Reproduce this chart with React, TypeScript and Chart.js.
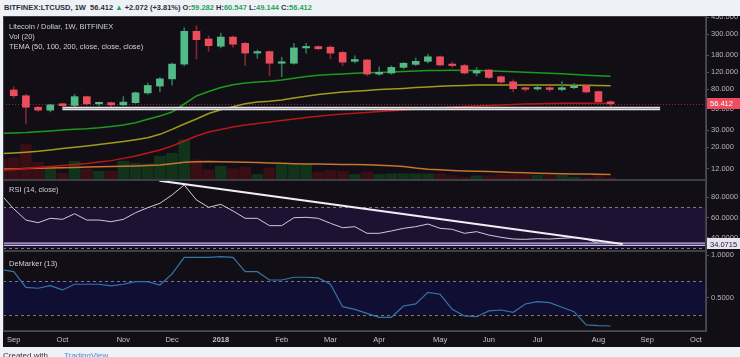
import React, { useEffect, useRef } from 'react';
import { Chart, registerables } from 'chart.js';
Chart.register(...registerables);

const FONT = '"Liberation Sans", Arial, sans-serif';
const BG = '#120e15';

// week index 0 = week of 1 Jan 2018 (weekly candles, BITFINEX LTCUSD)
const candleWeeks = [-17,-16,-15,-14,-13,-12,-11,-10,-9,-8,-7,-6,-5,-4,-3,-2,-1,0,1,2,3,4,5,6,7,8,9,10,11,12,13,14,15,16,17,18,19,20,21,22,23,24,25,26,27,28,29,30,31,32];
const opens  = [78.6,68.5,52,48.5,56.5,54.3,67,56.4,58,55,58,73.3,86.3,102.5,146,320,266,224,279,240,190,197,149,149,215,222,219,193,156,161,115,118,135,145,156,174,146,141,118,127,108,95.5,82,80.5,83,79.5,83,87,75.6,59.282];
const highs  = [85,71,53,56,57.5,71,68,59,59,67,75,93,106,150,349,365,287,307,285,245,204,200,172,240,240,226,225,198,178,164,137,140,152,169,185,178,154,145,135,129,110,100,84,86,85,96,92,88,77,60.547];
const lows   = [65,35,47,46.5,53,52,55,54,49.5,54,57,71,75,88,140,165,198,215,219,141,167,110,108,146,190,205,165,141,150,110,112,114,130,141,150,140,135,115,110,103,93,75,76,78,76,77,81,73,56,49.144];
const closes = [68.5,52,48.5,55,54,67,56.4,57.2,55,58.8,73.5,87.6,102.5,146,320,262,227,279,235,190,197,149,150,215,220,211,190,153,163,115,120,135,149,156,174,143,141,118,125,106,95,81,80,83,79.5,83,86.5,75,59.3,56.412];

const lineWeeks = [-18,-17,-16,-15,-14,-13,-12,-11,-10,-9,-8,-7,-6,-5,-4,-3,-2,-1,0,1,2,3,4,5,6,7,8,9,10,11,12,13,14,15,16,17,18,19,20,21,22,23,24,25,26,27,28,29,30,31,32];
const tema50  = [27.8,28.1,28.4,29.0,29.5,30.2,30.7,31.1,31.8,32.8,34.0,35.9,39.0,42.2,46.4,56.2,68.1,75.8,83.4,89.0,92.9,95.1,97.0,99.8,104,108.5,112,113.8,115.2,117.2,118.6,119.4,120.9,122.3,123.8,125,125.6,125.9,125.6,125,124.4,122.9,121.7,120,118.9,117.4,115.8,114.1,112,110.4,109];
const tema100 = [17.2,17.4,17.7,18.1,18.7,19.4,20.0,20.6,21.3,22.1,22.9,23.9,25.1,27.2,30.6,34.8,39.3,44.8,48.9,52.6,56.6,59.0,60.1,61.8,64.9,67.6,70.6,72.8,74.9,76.4,77.7,79.3,80.5,81.6,83.2,84.4,85.8,86.9,87.7,88.4,88.6,88.7,88.7,88.6,88.5,88.4,88.3,88.1,87.9,87.5,87.1];
const tema200 = [11.5,11.7,12.0,12.3,12.6,12.9,13.2,13.5,14.0,14.5,15.3,16.2,17.4,18.7,20.6,23.2,26.1,28.8,30.6,32.4,34.0,35.3,36.5,37.9,39.3,40.7,41.9,43.2,44.2,45.1,45.9,46.9,47.8,48.7,49.5,50.5,51.3,52.3,53.0,53.6,54.2,54.9,55.6,56.2,56.7,57.0,57.3,57.3,57.3,57.3,57.3];
const volume   = [210,222,355,178,112,68,188,112,88,88,188,168,162,238,268,402,202,102,138,112,128,55,122,155,155,155,78,95,88,55,78,55,62,62,62,62,62,45,28,42,42,55,55,55,48,48,48,28,22,48,22];
const volumeMA = [110,111,114,117,120,123,126,129,132,135,138,141,145,150,163,177,183,185,183,181,178,174,171,167,163,161,159,157,155,154,152,148,143,136,120,108,102,96,91,88,84,80,76,72,68,65,63,61,59,57,55];
const rsi = [81.8,68.5,57.5,54.9,59.2,58.2,63.7,57.5,57.5,55.9,58.2,64.7,69.6,73.9,82.1,91.9,77.2,70,72.9,66.4,59.2,59.2,52,52,59.8,60.2,59.2,54.3,50,51,44.5,44.5,46.8,49.4,51,53.6,49.4,48.4,44.5,46.1,42.8,40.6,38.9,38.6,39.2,38.9,39.6,40.2,38.9,34.7,34.07];
const demarker = [0.83,0.806,0.622,0.611,0.641,0.591,0.658,0.658,0.658,0.638,0.658,0.688,0.688,0.649,0.779,0.975,0.975,0.975,0.982,0.975,0.806,0.806,0.708,0.708,0.74,0.74,0.732,0.658,0.394,0.363,0.316,0.269,0.269,0.402,0.426,0.563,0.54,0.363,0.285,0.276,0.344,0.355,0.328,0.426,0.453,0.441,0.387,0.335,0.179,0.171,0.167];

const monthTicks  = [-17,-13,-8,-4,0,5,9,13,18,22,26,31,35,39];
const monthLabels = ['Sep','Oct','Nov','Dec','2018','Feb','Mar','Apr','May','Jun','Jul','Aug','Sep','Oct'];
const priceTicks = [12,20,30,50,80,120,180,300,450];
const rsiTicks = [40,60,80];
const demTicks = [0.5,1];

const lastPrice = 56.412;
const lastRsi = 34.0715;
const supportLevel = 50.5;
const supportFrom = -13;
const supportTo = 36.06;
const rsiTrendWeeks = [-5.04, 32.99];
const rsiTrendValues = [96.08, 34.0];
const rsiLevel = 33.8;

const X_MIN = -17.88, X_MAX = 39.83;
const UP = '#53b987', DOWN = '#eb4d5c';

function panePlugin(cfg: any) {
  return {
    id: 'pane' + Math.random().toString(36).slice(2),
    beforeDraw(chart: any) {
      const { ctx, width, height, chartArea: ca, scales } = chart;
      const y = scales.y;
      ctx.save();
      ctx.fillStyle = BG;
      ctx.fillRect(3, 0, width - 3, height);
      (cfg.bands || []).forEach((b: any) => {
        const a = y.getPixelForValue(b.from), c = y.getPixelForValue(b.to);
        ctx.fillStyle = b.color;
        ctx.fillRect(ca.left, Math.min(a, c), ca.right - ca.left, Math.abs(a - c));
      });
      ctx.lineWidth = 1;
      ctx.setLineDash([3, 3]);
      ctx.strokeStyle = '#7a7a84';
      (cfg.dashed || []).forEach((v: number) => {
        const py = Math.round(y.getPixelForValue(v)) + 0.5;
        ctx.beginPath(); ctx.moveTo(ca.left, py); ctx.lineTo(ca.right, py); ctx.stroke();
      });
      if (cfg.dotted) {
        ctx.setLineDash([1, 2]);
        ctx.strokeStyle = cfg.dotted.color;
        const py = Math.round(y.getPixelForValue(cfg.dotted.value)) + 0.5;
        ctx.beginPath(); ctx.moveTo(ca.left, py); ctx.lineTo(ca.right, py); ctx.stroke();
      }
      ctx.restore();
    },
    afterDraw(chart: any) {
      const { ctx, width, chartArea: ca, scales } = chart;
      ctx.save();
      ctx.strokeStyle = '#3e3e48';
      ctx.lineWidth = 1;
      ctx.strokeRect(ca.left + 0.5, ca.top + 0.5, ca.right - ca.left - 1, ca.bottom - ca.top - 1);
      if (cfg.box) {
        const py = scales.y.getPixelForValue(cfg.box.value);
        ctx.fillStyle = cfg.box.bg;
        ctx.fillRect(ca.right + 1, Math.round(py - 5.5), width - ca.right - 1, 11);
        ctx.fillStyle = cfg.box.fg;
        ctx.font = '7.5px ' + FONT;
        ctx.textBaseline = 'middle';
        ctx.textAlign = 'left';
        ctx.fillText(cfg.box.text, ca.right + 4, py + 0.5);
      }
      ctx.restore();
    },
  };
}

const tickFont = { size: 7.5, family: FONT };
const rightAxis = (min: number, max: number, ticks: number[], digits: number, type = 'linear') => ({
  type,
  position: 'right',
  min,
  max,
  afterBuildTicks: (s: any) => { s.ticks = ticks.map((v) => ({ value: v })); },
  afterFit: (s: any) => { s.width = 34; s.paddingTop = 0; s.paddingBottom = 0; },
  ticks: { color: '#b6b6bc', font: tickFont, padding: 2, autoSkip: false, callback: (v: any) => Number(v).toFixed(digits) },
  grid: { drawOnChartArea: false, tickLength: 3, color: '#55555e' },
  border: { color: '#4a4a54' },
});
const hiddenX = { type: 'linear', min: X_MIN, max: X_MAX, display: false, offset: false };

export default function App() {
  const mainRef = useRef<HTMLCanvasElement>(null);
  const rsiRef = useRef<HTMLCanvasElement>(null);
  const demRef = useRef<HTMLCanvasElement>(null);

  useEffect(() => {
    Chart.defaults.font.family = FONT;
    const up = candleWeeks.map((_, i) => closes[i] >= opens[i]);
    const volUp = lineWeeks.map((w) => { const i = candleWeeks.indexOf(w); return i >= 0 ? up[i] : false; });
    const common = {
      animation: false,
      responsive: false,
      maintainAspectRatio: false,
      events: [],
      plugins: { legend: { display: false }, tooltip: { enabled: false } },
      layout: { padding: { left: 3, right: 0, top: 0, bottom: 0 } },
    };
    const line = (data: any[], color: string, width: number, yAxisID = 'y', order = 5) => ({
      type: 'line', data, borderColor: color, borderWidth: width, pointRadius: 0, tension: 0, yAxisID, order, fill: false,
    });

    const main = new Chart(mainRef.current!, {
      type: 'bar',
      data: {
        datasets: [
          { type: 'bar', data: lineWeeks.map((w, i) => ({ x: w, y: volume[i] })), backgroundColor: volUp.map((u) => (u ? '#11331a' : '#3a0e17')), barThickness: 11, grouped: false, yAxisID: 'vol', order: 20 },
          line(lineWeeks.map((w, i) => ({ x: w, y: volumeMA[i] })), '#c8742c', 1.5, 'vol', 19),
          line(lineWeeks.map((w, i) => ({ x: w, y: tema200[i] })), '#b81818', 1.5, 'y', 12),
          line(lineWeeks.map((w, i) => ({ x: w, y: tema100[i] })), '#a09c1e', 1.5, 'y', 11),
          line(lineWeeks.map((w, i) => ({ x: w, y: tema50[i] })), '#1c9a1c', 1.5, 'y', 10),
          { type: 'bar', data: candleWeeks.map((w, i) => ({ x: w, y: [lows[i], highs[i]] })), backgroundColor: up.map((u) => (u ? '#2f7255' : '#7e2732')), barThickness: 1, grouped: false, yAxisID: 'y', order: 4 },
          { type: 'bar', data: candleWeeks.map((w, i) => ({ x: w, y: [opens[i], closes[i]] })), backgroundColor: up.map((u) => (u ? UP : DOWN)), barThickness: 7, minBarLength: 1.5, grouped: false, yAxisID: 'y', order: 3 },
          line([{ x: supportFrom, y: supportLevel }, { x: supportTo, y: supportLevel }], '#e6e6ea', 3.5, 'y', 2),
          line([{ x: supportFrom, y: supportLevel }, { x: supportTo, y: supportLevel }], '#9a9aa0', 1, 'y', 1),
        ],
      },
      options: {
        ...common,
        scales: {
          x: hiddenX,
          y: rightAxis(9.12, 461.5, priceTicks, 3, 'logarithmic'),
          vol: { type: 'linear', display: false, min: 0, max: 1640 },
        },
      } as any,
      plugins: [panePlugin({ dotted: { value: lastPrice, color: '#8e2a38' }, box: { value: lastPrice, text: lastPrice.toFixed(3), bg: '#ee4d60', fg: '#ffffff' } })],
    } as any);

    const rsiChart = new Chart(rsiRef.current!, {
      type: 'line',
      data: {
        datasets: [
          line(lineWeeks.map((w, i) => ({ x: w, y: rsi[i] })), '#d2cadb', 1, 'y', 5),
          line([{ x: X_MIN, y: rsiLevel }, { x: X_MAX, y: rsiLevel }], '#c6b8ea', 3.5, 'y', 4),
          line([{ x: X_MIN, y: rsiLevel }, { x: X_MAX, y: rsiLevel }], '#2a1d3c', 1, 'y', 3),
          line(rsiTrendWeeks.map((w, i) => ({ x: w, y: rsiTrendValues[i] })), '#eeeef4', 2, 'y', 2),
        ],
      },
      options: {
        ...common,
        scales: { x: hiddenX, y: rightAxis(27.16, 96.76, rsiTicks, 4) },
      } as any,
      plugins: [panePlugin({ bands: [{ from: 30, to: 70, color: '#1e1131' }], dashed: [70, 30], box: { value: lastRsi, text: lastRsi.toFixed(4), bg: '#e8e3f3', fg: '#1b1b22' } })],
    } as any);

    const demChart = new Chart(demRef.current!, {
      type: 'line',
      data: {
        datasets: [line(lineWeeks.map((w, i) => ({ x: w, y: demarker[i] })), '#3476a8', 1.2, 'y', 5)],
      },
      options: {
        ...common,
        scales: {
          x: {
            type: 'linear', min: X_MIN, max: X_MAX, position: 'bottom', offset: false,
            afterBuildTicks: (s: any) => { s.ticks = monthTicks.map((v) => ({ value: v })); },
            afterFit: (s: any) => { s.height = 16; s.paddingLeft = 0; s.paddingRight = 0; },
            ticks: {
              color: '#c4c4ca', padding: 4, autoSkip: false, maxRotation: 0,
              font: (c: any) => ({ size: 7.5, family: FONT, weight: c.index === 4 ? 'bold' : 'normal' }),
              callback: (_v: any, i: number) => monthLabels[i],
            },
            grid: { display: false, drawTicks: false, tickLength: 0 },
            border: { color: '#4a4a54' },
          },
          y: rightAxis(0.108, 1.049, demTicks, 4),
        },
      } as any,
      plugins: [panePlugin({ bands: [{ from: 0.3, to: 0.7, color: '#100e33' }], dashed: [0.7, 0.3] })],
    } as any);

    return () => { main.destroy(); rsiChart.destroy(); demChart.destroy(); };
  }, []);

  const legend: React.CSSProperties = { position: 'absolute', left: 9, color: '#cfd0d6', fontSize: 7.5, lineHeight: '10.4px', whiteSpace: 'nowrap', fontFamily: FONT };
  const green = { color: '#27a35c' };
  return (
    <div style={{ position: 'absolute', left: 0, top: 0, width: 740, height: 357, background: '#eef1f5', overflow: 'hidden', fontFamily: FONT }}>
      <div style={{ position: 'absolute', left: 4, top: 2.5, fontSize: 7.5, lineHeight: '10px', fontWeight: 700, color: '#2b2e38', whiteSpace: 'nowrap' }}>
        BITFINEX:LTCUSD, 1W&nbsp; 56.412 <span style={green}>▲</span> +2.072 (+3.81%) O:<span style={green}>59.282</span> H:<span style={green}>60.547</span> L:<span style={green}>49.144</span> C:<span style={green}>56.412</span>
      </div>
      <canvas ref={mainRef} width={740} height={164} style={{ position: 'absolute', left: 0, top: 16, width: 740, height: 164 }} />
      <canvas ref={rsiRef} width={740} height={71} style={{ position: 'absolute', left: 0, top: 180, width: 740, height: 71 }} />
      <canvas ref={demRef} width={740} height={96} style={{ position: 'absolute', left: 0, top: 251, width: 740, height: 96 }} />
      <div style={{ ...legend, top: 21.5 }}>
        <div>Litecoin / Dollar, 1W, BITFINEX</div>
        <div>Vol (20)</div>
        <div>TEMA (50, 100, 200, close, close, close)</div>
      </div>
      <div style={{ ...legend, top: 185 }}>RSI (14, close)</div>
      <div style={{ ...legend, top: 259 }}>DeMarker (13)</div>
      <div style={{ position: 'absolute', left: 3, top: 351, fontSize: 8, color: '#333', whiteSpace: 'nowrap' }}>
        Created with <span style={{ color: '#3f8fd9', marginLeft: 14 }}>TradingView</span>
      </div>
    </div>
  );
}
